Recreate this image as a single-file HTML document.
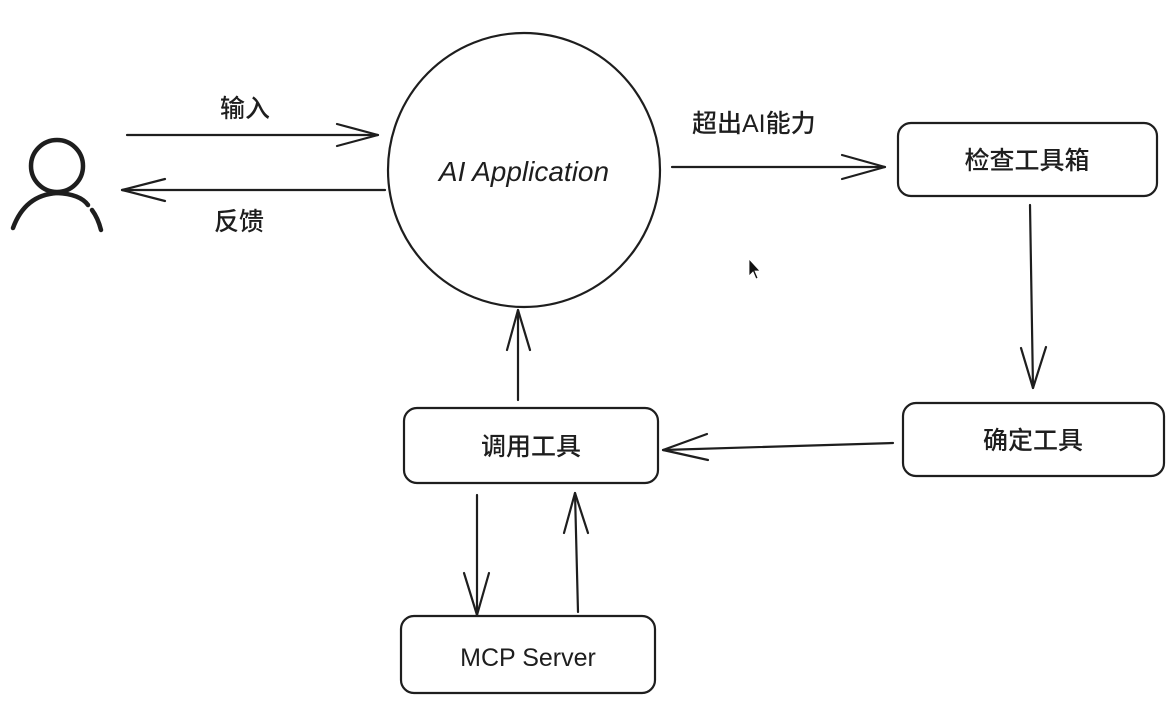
<!DOCTYPE html>
<html><head><meta charset="utf-8"><style>
html,body{margin:0;padding:0;background:#fff;}
svg{display:block;}
text{font-family:"Liberation Sans","Noto Sans CJK SC",sans-serif;fill:#1e1e1e;font-weight:500;}
</style></head><body>
<svg width="1171" height="707" viewBox="0 0 1171 707" xmlns="http://www.w3.org/2000/svg">
<g fill="none" stroke="#1e1e1e" stroke-width="2.2" stroke-linecap="round" stroke-linejoin="round">
<circle cx="57" cy="166" r="26" stroke-width="4.5"/>
<path d="M13 228 Q25 195 57 193 Q80 194 88 205" stroke-width="4.5"/>
<path d="M92 210 Q98 218 101 230" stroke-width="4.5"/>
<path d="M127 135 L378 135"/><path d="M337 124 L378 135 L337 146"/>
<path d="M385 190 L122 190"/><path d="M165 179 L122 190 L165 201"/>
<ellipse cx="524" cy="170" rx="136" ry="137"/>
<path d="M672 167 L885 167"/><path d="M842 155 L885 167 L842 179"/>
<rect x="898" y="123" width="259" height="73" rx="13"/>
<rect x="903" y="403" width="261" height="73" rx="13"/>
<rect x="404" y="408" width="254" height="75" rx="13"/>
<rect x="401" y="616" width="254" height="77" rx="13"/>
<path d="M1030 205 L1033 388"/><path d="M1021 348 L1033 388 L1046 347"/>
<path d="M893 443 L663 450"/><path d="M707 434 L663 450 L708 460"/>
<path d="M518 400 L518 310"/><path d="M507 350 L518 310 L530 350"/>
<path d="M477 495 L477 615"/><path d="M464 573 L477 615 L489 573"/>
<path d="M578 612 L575 493"/><path d="M564 533 L575 493 L588 533"/>
</g>
<path d="M749 259 L749 276 L753 272 L756 279 L758 278 L755 271 L760 271 Z" fill="#111" stroke="#fff" stroke-width="0.8"/>
<text x="220" y="117" font-size="25">输入</text>
<text x="214" y="230" font-size="25">反馈</text>
<text x="692" y="132" font-size="25">超出AI能力</text>
<text x="524" y="181" font-size="28" text-anchor="middle" font-style="italic" font-weight="bold" font-family="Liberation Sans, sans-serif">AI Application</text>
<text x="1027" y="169" font-size="25" text-anchor="middle">检查工具箱</text>
<text x="1033" y="449" font-size="25" text-anchor="middle">确定工具</text>
<text x="531" y="455" font-size="25" text-anchor="middle">调用工具</text>
<text x="528" y="666" font-size="25" text-anchor="middle" font-weight="bold">MCP Server</text>
</svg>
</body></html>
